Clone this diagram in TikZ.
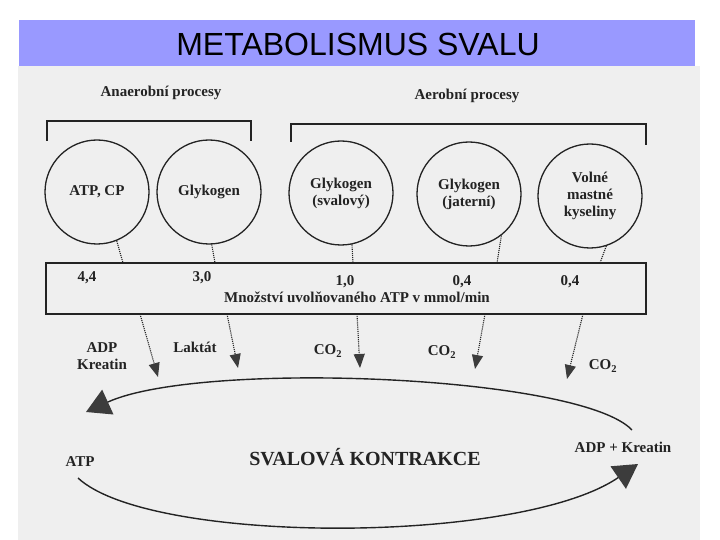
\documentclass[tikz,border=0pt]{standalone}
\usepackage{fontspec}
\setmainfont{Liberation Serif}
\setsansfont{Liberation Sans}
\usetikzlibrary{arrows.meta}

\definecolor{titlebar}{RGB}{153,153,255}
\definecolor{scan}{RGB}{239,239,239}
\definecolor{ink}{RGB}{35,35,35}
\definecolor{tip}{RGB}{60,60,60}

\begin{document}
\begin{tikzpicture}[x=1pt, y=-1pt,
    every node/.style={font=\bfseries\fontsize{15}{17}\selectfont, text=ink, align=center},
    source/.style={draw=ink, line width=1.3pt, circle, minimum size=104pt, inner sep=0pt},
    feed/.style={ink, line width=1.1pt, densely dotted},
    yield/.style={feed, -{Triangle[length=14pt, width=11pt, fill=tip, color=tip]}},
    cycle/.style={ink, line width=1.4pt, -{Triangle[length=24pt, width=27pt, fill=tip, color=tip]}}]

  \useasboundingbox (0,0) rectangle (720,540);

  % Titulek
  \fill[titlebar] (19,20) rectangle (695,66);
  \node[font=\sffamily\fontsize{32}{36}\selectfont, text=black] (title) at (358,44) {METABOLISMUS SVALU};

  % Podklad skenu
  \fill[scan] (18,66) rectangle (700,540);

  % Skupiny procesu
  \node (anaer) at (161,93) {Anaerobní procesy};
  \node (aer) at (467,96) {Aerobní procesy};
  \draw[ink, line width=1.3pt] (47,141) -- (47,121) -- (251,121) -- (251,141);
  \draw[ink, line width=1.3pt] (291,142) -- (291,124) -- (646,124) -- (646,145);

  % Zdroje energie
  \node[source] (atpcp) at (97,192) {ATP, CP};
  \node[source] (glyk) at (209,192) {Glykogen};
  \node[source] (sval) at (341,193) {Glykogen\\(svalový)};
  \node[source] (jat) at (469,194) {Glykogen\\(jaterní)};
  \node[source] (vmk) at (590,196) {Volné\\mastné\\kyseliny};

  % Tabulka rychlosti
  \node[draw=ink, line width=1.3pt, minimum width=600pt, minimum height=51pt, inner sep=0pt] (box) at (346,288.5) {};
  \node (r1) at (87,278) {4,4};
  \node (r2) at (202,278) {3,0};
  \node (r3) at (345,282) {1,0};
  \node (r4) at (462,282) {0,4};
  \node (r5) at (570,282) {0,4};
  \node (rate) at (357,297) {Množství uvolňovaného ATP v mmol/min};

  % Teckovane spojnice do tabulky
  \coordinate (t1) at (123,263);
  \coordinate (t2) at (215,263);
  \coordinate (t3) at (353,263);
  \coordinate (t4) at (497,263);
  \coordinate (t5) at (600,263);
  \draw[feed] (atpcp.-68) -- (t1);
  \draw[feed] (glyk.-87) -- (t2);
  \draw[feed] (sval.-78) -- (t3);
  \draw[feed] (jat.-52) -- (t4);
  \draw[feed] (vmk.-72) -- (t5);

  % Produkty
  \node (adp) at (102,356) {ADP\\Kreatin};
  \node (lakt) at (195,347) {Laktát};
  \node (co1) at (328,351) {CO\textsubscript{2}};
  \node (co2) at (442,352) {CO\textsubscript{2}};
  \node (co3) at (603,366) {CO\textsubscript{2}};

  \coordinate (b1) at (140,314);
  \coordinate (b2) at (227,314);
  \coordinate (b3) at (357,314);
  \coordinate (b4) at (485,314);
  \coordinate (b5) at (583,314);
  \coordinate (p1) at (158,377);
  \coordinate (p2) at (238,368);
  \coordinate (p3) at (360,368);
  \coordinate (p4) at (475,369);
  \coordinate (p5) at (567,379);
  \foreach \i in {1,...,5}
    \draw[yield] (b\i) -- (p\i);

  % Cyklus svalove kontrakce
  \node (atp) at (80,462) {ATP};
  \node[font=\bfseries\fontsize{20}{23}\selectfont] (kontr) at (365,457) {SVALOVÁ KONTRAKCE};
  \node (adpk) at (623,447) {ADP + Kreatin};
  \coordinate (upR) at (632,430);
  \coordinate (upL) at (86,412);
  \coordinate (loL) at (78,478);
  \coordinate (loR) at (638,464);
  \draw[cycle] (upR) .. controls (580,375) and (200,360) .. (upL);
  \draw[cycle] (loL) .. controls (150,545) and (520,545) .. (loR);
\end{tikzpicture}
\end{document}
